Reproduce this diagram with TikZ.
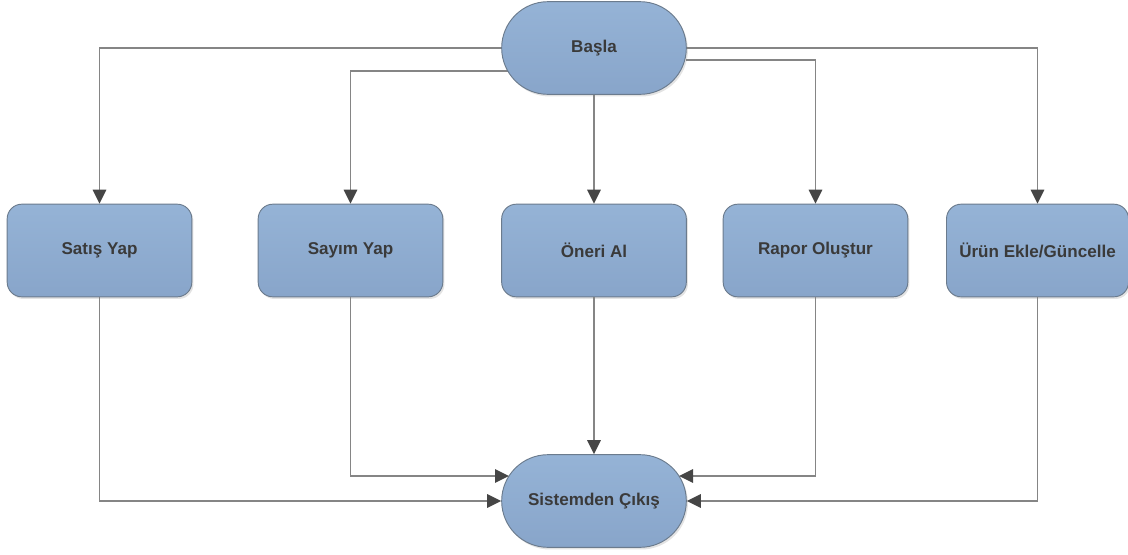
\documentclass[tikz,border=0pt]{standalone}
\usepackage{fontspec}
\setmainfont{Liberation Sans}
\usetikzlibrary{arrows.meta,shapes.misc,shadows,calc,backgrounds}

\definecolor{boxtop}{HTML}{95B3D6}
\definecolor{boxbot}{HTML}{88A5CA}
\definecolor{boxline}{HTML}{6B7B8D}
\definecolor{txt}{HTML}{3A3A3A}
\definecolor{wire}{HTML}{858585}
\definecolor{tip}{HTML}{454545}

\tikzset{
  base/.style={draw=boxline, line width=0.7pt, top color=boxtop, bottom color=boxbot,
    text=txt, font=\fontsize{12.8}{15}\selectfont\bfseries, align=center,
    drop shadow={opacity=0.22, shadow xshift=1.2pt, shadow yshift=-1.6pt, fill=black!50}},
  terminal/.style={base, rounded rectangle, minimum width=138.5pt, minimum height=69.5pt, inner sep=0pt},
  task/.style={base, rectangle, rounded corners=11pt, minimum width=138.5pt, minimum height=69.5pt, inner sep=0pt},
  flow/.style={draw=wire, line width=1.4pt,
    -{Triangle[length=10.5pt, width=10pt, color=tip]}},
}

\begin{document}
\begin{tikzpicture}[x=0.75pt, y=-0.75pt]
  \useasboundingbox (0,0) rectangle (1128,554);

  % start / end terminals
  \node[terminal] (start) at (594,48) {Başla};
  \node[terminal] (finish) at (594,501) {Sistemden Çıkış};

  % menu actions
  \node[task] (sale)   at (99.5,250.5)  {Satış Yap};
  \node[task] (count)  at (350.5,250.5) {Sayım Yap};
  \node[task] (advice) at (594,250.5)   {Öneri Al};
  \node[task] (report) at (815.5,250.5) {Rapor Oluştur};
  \node[task, minimum width=136.5pt] (product) at (1037.5,250.5) {Ürün Ekle/Güncelle};

  % branch points on the terminals' borders
  \coordinate (sOutL) at ($(start.center)+(-86.5,22.7)$);
  \coordinate (sOutR) at ($(start.center)+(92,12)$);
  \coordinate (fInL)  at ($(finish.center)+(-85,-25)$);
  \coordinate (fInR)  at ($(finish.center)+(85,-25)$);

  \begin{scope}[on background layer]
    \draw[flow] (start.west) -| (sale.north);
    \draw[flow] (sOutL) -| (count.north);
    \draw[flow] (start.east) -| (product.north);
    \draw[flow] (sOutR) -| (report.north);
  \end{scope}
  \draw[flow] (start.south) -- (advice.north);

  \draw[flow] (sale.south) |- (finish.west);
  \draw[flow] (count.south) |- (fInL);
  \draw[flow] (advice.south) -- (finish.north);
  \draw[flow] (report.south) |- (fInR);
  \draw[flow] (product.south) |- (finish.east);
\end{tikzpicture}
\end{document}
